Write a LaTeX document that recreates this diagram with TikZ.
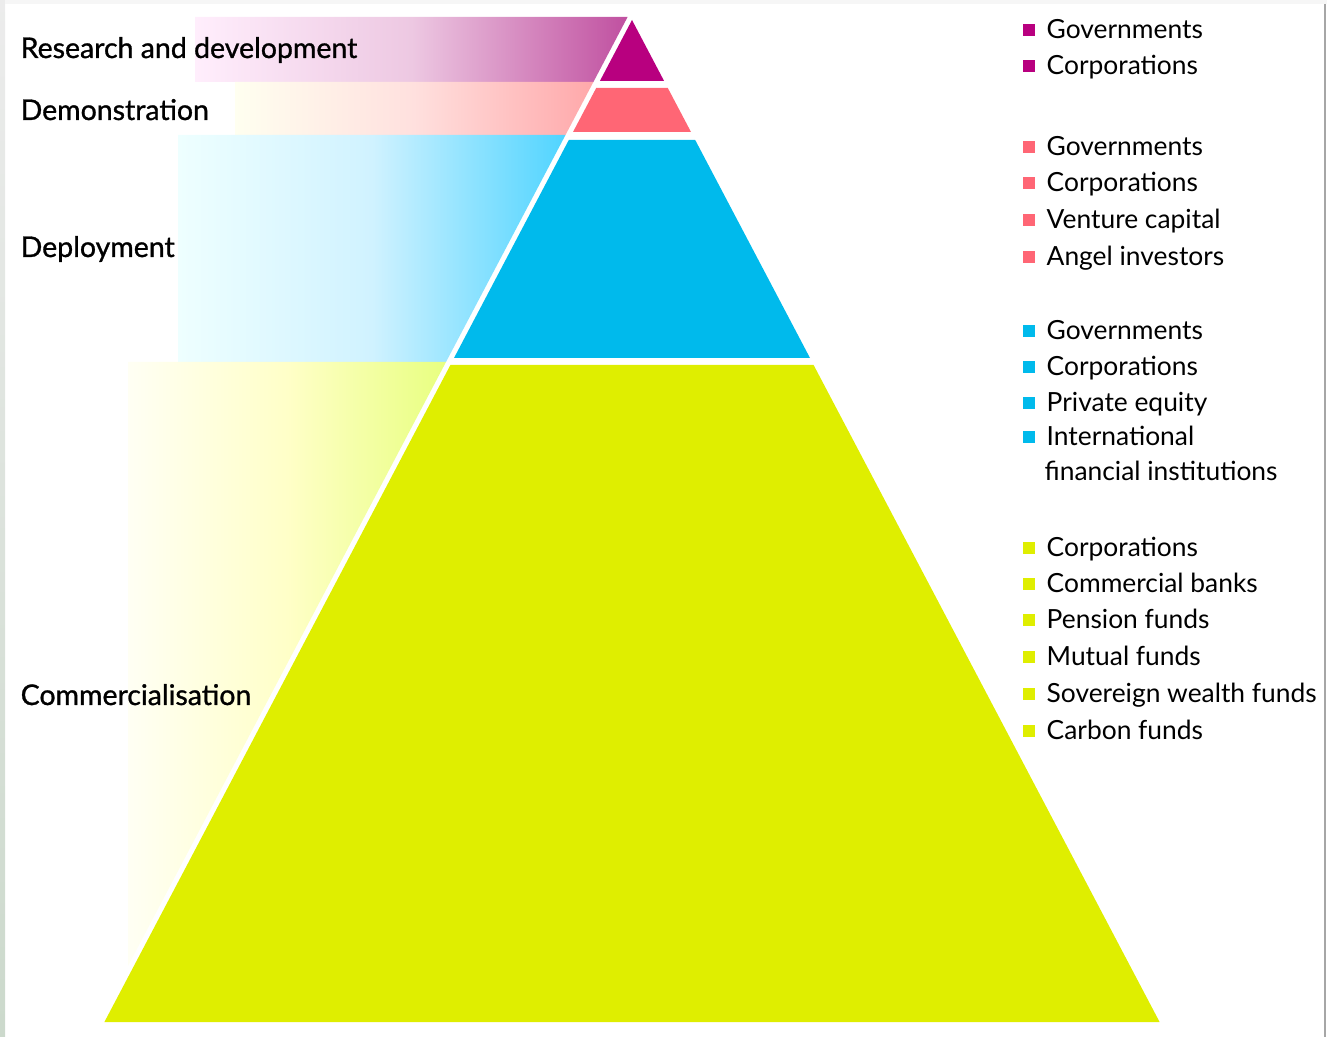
\documentclass[tikz,border=0pt]{standalone}
\usepackage{fontspec}
\setmainfont{Lato}
\newfontfamily\stagefont[FakeBold=1]{Lato}

\definecolor{rdcol}{HTML}{B8007F}
\definecolor{democol}{HTML}{FF6675}
\definecolor{deplcol}{HTML}{00BAEC}
\definecolor{commcol}{HTML}{DFEE00}
% band shades
\definecolor{rdlo}{HTML}{FFEEFC}
\definecolor{rdmid}{HTML}{EDC8E2}
\definecolor{rdhi}{HTML}{C050A0}
\definecolor{demolo}{HTML}{FFFFF0}
\definecolor{demomid}{HTML}{FFE0DE}
\definecolor{demohi}{HTML}{FFA8AA}
\definecolor{depllo}{HTML}{EEFFFF}
\definecolor{deplmid}{HTML}{D0F2FF}
\definecolor{deplhi}{HTML}{50D4FF}
\definecolor{commlo}{HTML}{FFFFF4}
\definecolor{commmid}{HTML}{FFFFC8}
\definecolor{commhi}{HTML}{E8FF80}

\begin{document}
\begin{tikzpicture}[x=0.01cm,y=-0.01cm,
  stage/.style={anchor=base west,inner sep=0pt,font=\stagefont\fontsize{8.1}{9}\selectfont},
  entry/.style={anchor=base west,inner sep=0pt,font=\fontsize{7.5}{9}\selectfont},
  swatch/.style={fill=#1,inner sep=0pt,minimum size=0.12cm}]

\useasboundingbox (0,0) rectangle (1327,1037);

% screen edges
\shade[top color=gray!15,bottom color=green!15!gray!35] (0,0) rectangle (5,1037);
\fill[gray!7] (5,0) rectangle (1327,4);
\draw[gray!70,line width=0.015cm] (1325,4) -- (1325,1037);

% bands behind the labels
\shade[left color=rdlo,right color=rdhi,middle color=rdmid] (195,17) -- (627.6,17) -- (593.4,82) -- (195,82) -- cycle;
\shade[left color=demolo,right color=demohi,middle color=demomid] (235,82) -- (593.4,82) -- (565.5,135) -- (235,135) -- cycle;
\shade[left color=depllo,right color=deplhi,middle color=deplmid] (178,135) -- (565.5,135) -- (446,362) -- (178,362) -- cycle;
\shade[left color=commlo,right color=commhi,middle color=commmid] (128,362) -- (446,362) -- (128,966) -- cycle;

% pyramid
\fill[rdcol] (632,20) -- (664.1,81) -- (599.9,81) -- cycle;
\fill[democol] (596.2,88) -- (667.8,88) -- (691,132) -- (573,132) -- cycle;
\fill[deplcol] (568.8,140) -- (695.2,140) -- (810,358) -- (454,358) -- cycle;
\fill[commcol] (450.4,365) -- (813.6,365) -- (1159.6,1022) -- (104.4,1022) -- cycle;

% stages
\node[stage] (rd) at (20,58) {Research and development};
\node[stage] (demo) at (20,120) {Demonstration};
\node[stage] (depl) at (20,257) {Deployment};
\node[stage] (comm) at (20,705) {Commercialisation};

% research and development
\node[swatch=rdcol] (s11) at (1029,30) {};
\node[entry] (e11) at (1046,39) {Governments};
\node[swatch=rdcol] (s12) at (1029,66) {};
\node[entry] (e12) at (1046,75) {Corporations};

% demonstration
\node[swatch=democol] (s21) at (1029,147) {};
\node[entry] (e21) at (1046,156) {Governments};
\node[swatch=democol] (s22) at (1029,183) {};
\node[entry] (e22) at (1046,192) {Corporations};
\node[swatch=democol] (s23) at (1029,220) {};
\node[entry] (e23) at (1046,229) {Venture capital};
\node[swatch=democol] (s24) at (1029,257) {};
\node[entry] (e24) at (1046,266) {Angel investors};

% deployment
\node[swatch=deplcol] (s31) at (1029,331) {};
\node[entry] (e31) at (1046,340) {Governments};
\node[swatch=deplcol] (s32) at (1029,367) {};
\node[entry] (e32) at (1046,376) {Corporations};
\node[swatch=deplcol] (s33) at (1029,403) {};
\node[entry] (e33) at (1046,412) {Private equity};
\node[swatch=deplcol] (s34) at (1029,437) {};
\node[entry] (e34) at (1046,446) {International};
\node[entry] (e35) at (1044,481) {financial institutions};

% commercialisation
\node[swatch=commcol] (s41) at (1029,548) {};
\node[entry] (e41) at (1046,557) {Corporations};
\node[swatch=commcol] (s42) at (1029,584) {};
\node[entry] (e42) at (1046,593) {Commercial banks};
\node[swatch=commcol] (s43) at (1029,620) {};
\node[entry] (e43) at (1046,629) {Pension funds};
\node[swatch=commcol] (s44) at (1029,657) {};
\node[entry] (e44) at (1046,666) {Mutual funds};
\node[swatch=commcol] (s45) at (1029,694) {};
\node[entry] (e45) at (1046,703) {Sovereign wealth funds};
\node[swatch=commcol] (s46) at (1029,731) {};
\node[entry] (e46) at (1046,740) {Carbon funds};

\end{tikzpicture}
\end{document}
